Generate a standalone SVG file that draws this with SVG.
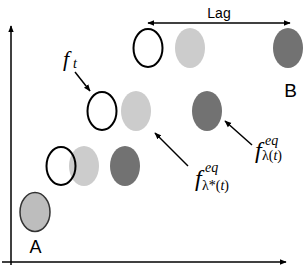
<svg xmlns="http://www.w3.org/2000/svg" width="307" height="273" viewBox="0 0 307 273">
<style>
.open{fill:none;stroke:#000;stroke-width:2}
.light{fill:#cccccc}
.dark{fill:#727272}
.ln{stroke:#000;stroke-width:1.5;fill:none}
.lbl{font-family:"Liberation Sans","DejaVu Sans",sans-serif;fill:#000}
.math{font-family:"Liberation Serif","DejaVu Serif",serif;font-style:italic;fill:#000}
.up{font-family:"Liberation Serif","DejaVu Serif",serif;fill:#000}
</style>
<defs>
<marker id="ah" viewBox="0 0 10 10" refX="9" refY="5" markerWidth="7" markerHeight="7" orient="auto-start-reverse" markerUnits="userSpaceOnUse">
<path d="M0,1 L10,5 L0,9 z" fill="#000"/>
</marker>
</defs>
<rect width="307" height="273" fill="#fff"/>
<g id="connectors">
<line class="ln" x1="11" y1="265" x2="11" y2="26" marker-end="url(#ah)"/>
<line class="ln" x1="2" y1="262" x2="286" y2="262" marker-end="url(#ah)"/>
<line class="ln" x1="148" y1="23" x2="290" y2="23" marker-start="url(#ah)" marker-end="url(#ah)"/>
<line class="ln" x1="75" y1="72" x2="90" y2="91" marker-end="url(#ah)"/>
<line class="ln" x1="252" y1="145" x2="225" y2="121" marker-end="url(#ah)"/>
<line class="ln" x1="188" y1="166" x2="155" y2="133" marker-end="url(#ah)"/>
</g>
<g id="row1">
<ellipse class="light" cx="190" cy="48" rx="15" ry="20"/>
<ellipse class="dark" cx="288" cy="48" rx="15" ry="20"/>
<ellipse class="open" cx="148" cy="48" rx="14.5" ry="19"/>
</g>
<g id="row2">
<ellipse class="light" cx="136" cy="111" rx="15" ry="20"/>
<ellipse class="dark" cx="207" cy="111" rx="15" ry="20"/>
<ellipse class="open" cx="102" cy="111" rx="14.5" ry="19"/>
</g>
<g id="row3">
<ellipse class="light" cx="84" cy="166" rx="15" ry="20"/>
<ellipse class="dark" cx="125" cy="166" rx="15" ry="20"/>
<ellipse class="open" cx="61" cy="166" rx="14.5" ry="19"/>
</g>
<g id="nodeA">
<ellipse cx="35" cy="212" rx="15" ry="19.5" fill="#bdbdbd" stroke="#333" stroke-width="1.5"/>
<text class="lbl" x="35.5" y="253" font-size="18" text-anchor="middle">A</text>
</g>
<g id="nodeB">
<text class="lbl" x="290.5" y="97" font-size="19" text-anchor="middle">B</text>
</g>
<g id="lagLabel">
<text class="lbl" x="219" y="18" font-size="14" text-anchor="middle">Lag</text>
</g>
<g id="ftLabel">
<text class="math" x="63" y="66" font-size="22">f</text>
<text class="math" x="73" y="68" font-size="14">t</text>
</g>
<g id="fLambdaLabel">
<text class="math" x="255" y="158" font-size="24">f</text>
<text class="math" x="265" y="145" font-size="14">eq</text>
<text class="up" x="262" y="160" font-size="14">λ(<tspan font-style="italic">t</tspan>)</text>
</g>
<g id="fLambdaStarLabel">
<text class="math" x="195" y="186" font-size="24">f</text>
<text class="math" x="205" y="172" font-size="14">eq</text>
<text class="up" x="202" y="190" font-size="14">λ*(<tspan font-style="italic">t</tspan>)</text>
</g>
</svg>
